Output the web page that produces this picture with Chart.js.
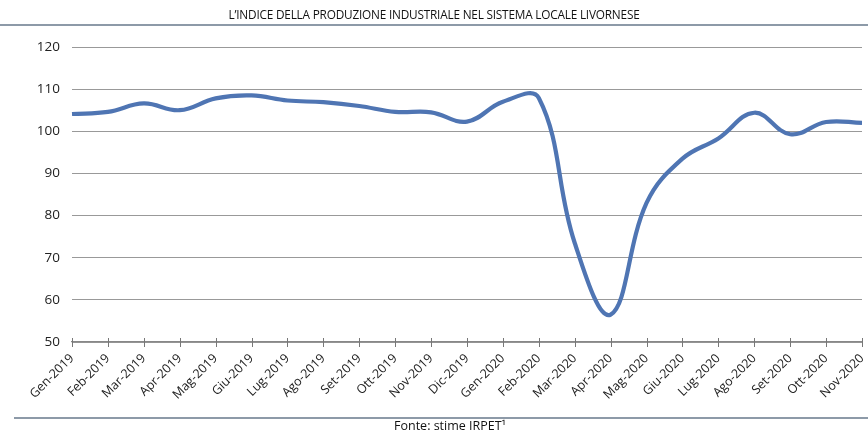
<!DOCTYPE html>
<html>
<head>
<meta charset="utf-8">
<script src="https://cdn.jsdelivr.net/npm/chart.js@4/dist/chart.umd.min.js"></script>
<style>
  html, body { margin: 0; padding: 0; background: #fff; }
  #wrap { position: relative; width: 868px; height: 434px; overflow: hidden; font-family: "Open Sans", sans-serif; }
  #chart { position: absolute; left: 0; top: 0; }
  .title { position: absolute; left: 0; width: 868px; top: 6px; text-align: center; font-size: 11.8px; color: #111; letter-spacing: -0.2px; }
  .rule { position: absolute; height: 1.5px; background: #8d9aa8; }
  .source { position: absolute; left: 330px; width: 240px; top: 417px; text-align: center; font-size: 12.5px; color: #111; }
</style>
</head>
<body>
<div id="wrap">
  <canvas id="chart" width="868" height="434"></canvas>
  <div class="title">L’INDICE DELLA PRODUZIONE INDUSTRIALE NEL SISTEMA LOCALE LIVORNESE</div>
  <div class="rule" style="left:0; width:868px; top:24px;"></div>
  <div class="rule" style="left:14px; width:854px; top:417px;"></div>
  <div class="source">Fonte: stime IRPET¹</div>
</div>
<script>
// months shown on the x axis
const months = [
  'Gen-2019', 'Feb-2019', 'Mar-2019', 'Apr-2019', 'Mag-2019', 'Giu-2019',
  'Lug-2019', 'Ago-2019', 'Set-2019', 'Ott-2019', 'Nov-2019', 'Dic-2019',
  'Gen-2020', 'Feb-2020', 'Mar-2020', 'Apr-2020', 'Mag-2020', 'Giu-2020',
  'Lug-2020', 'Ago-2020', 'Set-2020', 'Ott-2020', 'Nov-2020'
];

// industrial production index
const indexValues = [
  104.1, 104.6, 106.6, 105.0, 107.8, 108.5,
  107.3, 106.9, 106.0, 104.6, 104.5, 102.3,
  107.0, 107.9, 73.5, 56.5, 83.0, 93.5,
  98.3, 104.4, 99.3, 102.2, 102.0
];

const yTicks = [50, 60, 70, 80, 90, 100, 110, 120];

// small tick marks crossing the x axis, as in the original
const crossTicks = {
  id: 'crossTicks',
  afterDraw(chart) {
    const x = chart.scales.x, c = chart.ctx, y0 = chart.chartArea.bottom;
    c.save();
    c.strokeStyle = '#777';
    c.lineWidth = 1;
    x.ticks.forEach((t, i) => {
      const px = Math.round(x.getPixelForTick(i)) + 0.5;
      c.beginPath();
      c.moveTo(px, y0 - 4);
      c.lineTo(px, y0 + 5);
      c.stroke();
    });
    c.restore();
  }
};

const ctx = document.getElementById('chart').getContext('2d');

new Chart(ctx, {
  type: 'line',
  data: {
    labels: months,
    datasets: [{
      data: indexValues,
      borderColor: '#4f75b3',
      borderWidth: 4.2,
      pointRadius: 0,
      tension: 0.4,
      fill: false
    }]
  },
  options: {
    responsive: false,
    animation: false,
    layout: { padding: { top: 47, right: 6, bottom: 0, left: 0 } },
    plugins: { legend: { display: false }, tooltip: { enabled: false } },
    scales: {
      x: {
        offset: false,
        afterFit: s => { s.height = 92; s.paddingLeft = 0; s.paddingRight = 0; },
        grid: { drawOnChartArea: false, display: true, drawTicks: false, tickLength: 6 },
        border: { color: '#888', width: 1.2 },
        ticks: {
          maxRotation: 45, minRotation: 45, autoSkip: false, padding: 9,
          color: '#222', font: { family: 'Open Sans', size: 12.5 }
        }
      },
      y: {
        min: 50, max: 120,
        afterFit: s => { s.width = 72; },
        afterBuildTicks: s => { s.ticks = yTicks.map(v => ({ value: v })); },
        grid: { color: '#999', lineWidth: 1, borderDash: [1, 2], drawTicks: false },
        border: { display: false },
        ticks: {
          padding: 12, color: '#222', font: { family: 'Open Sans', size: 13.5 }
        }
      }
    }
  },
  plugins: [crossTicks]
});
</script>
</body>
</html>
